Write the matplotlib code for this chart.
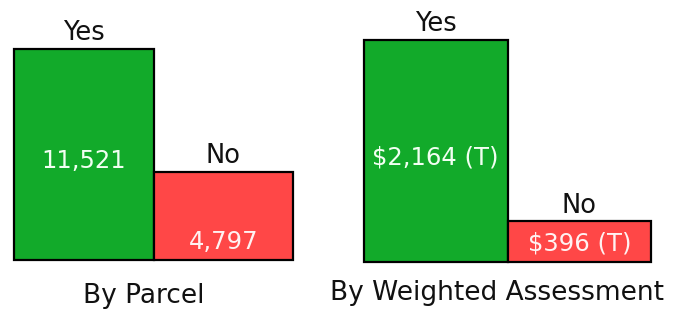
import matplotlib
matplotlib.use('Agg')
import matplotlib.pyplot as plt

# ===== Data =====
categories = ['Yes', 'No']
parcel_counts = [11521, 4797]
parcel_labels = ['11,521', '4,797']
assess_values = [2164, 396]
assess_labels = ['$2,164 (T)', '$396 (T)']
panel_titles = ['By Parcel', 'By Weighted Assessment']
bar_colors = ['#12aa2a', '#ff4747']

W, H = 677, 316
fig = plt.figure(figsize=(W / 100, H / 100), dpi=100)
fig.patch.set_facecolor('white')

# axes boxes in pixels: (left, right, top, bottom) of the bar area, plus title y (axes frac)
boxes = [(14, 293, 49, 260, -0.17), (364, 651, 40, 262, -0.14)]
panels = [(parcel_counts, parcel_labels), (assess_values, assess_labels)]

for (l, r, t, b, ty), (vals, labels), title in zip(boxes, panels, panel_titles):
    ax = fig.add_axes([l / W, 1 - b / H, (r - l) / W, (b - t) / H])
    x = range(len(vals))
    ax.bar(x, vals, width=1.0, align='edge', color=bar_colors,
           edgecolor='black', linewidth=1.6, clip_on=False)
    ax.set_xlim(0, len(vals))
    ax.set_ylim(0, max(vals))
    ax.axis('off')
    for i, (v, lab, cat) in enumerate(zip(vals, labels, categories)):
        ax.annotate(cat, (i + 0.5, v), xytext=(0, 2), textcoords='offset points',
                    ha='center', va='bottom', fontsize=18.5, color='#111111')
        if i == 0:
            ax.annotate(lab, (i + 0.5, v / 2), xytext=(0, -5), textcoords='offset points',
                        ha='center', va='center', fontsize=17.5, color='#f2fff2')
        else:
            ax.annotate(lab, (i + 0.5, 0), xytext=(0, 13), textcoords='offset points',
                        ha='center', va='center', fontsize=17.5, color='#fff2f2')
    ax.text(0.465, ty, title, transform=ax.transAxes, ha='center', va='center',
            fontsize=19, color='#111111')

plt.savefig('out.png', dpi=100, facecolor='white')
plt.close()
